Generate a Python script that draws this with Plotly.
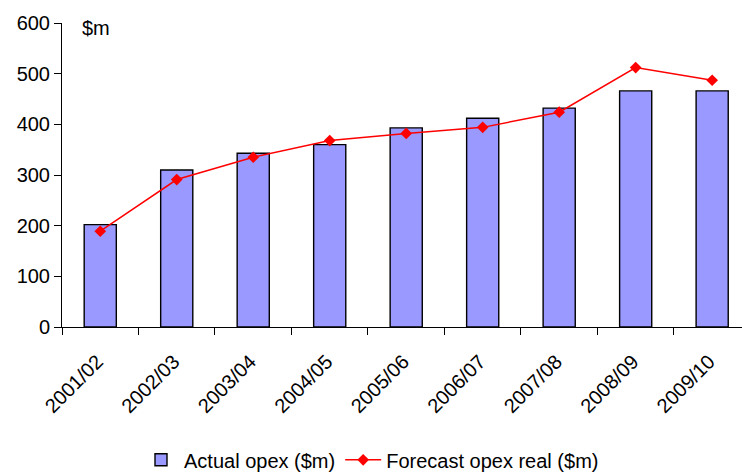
import plotly.graph_objects as go

years = ["2001/02", "2002/03", "2003/04", "2004/05", "2005/06",
         "2006/07", "2007/08", "2008/09", "2009/10"]
actual_opex = [202, 310, 343, 360, 393, 412, 432, 466, 466]
forecast_opex_real = [189, 291, 335, 368, 382, 394, 424, 512, 487]
y_ticks = [0, 100, 200, 300, 400, 500, 600]

FONT = "Liberation Sans, Arial, sans-serif"

fig = go.Figure()
fig.add_trace(go.Bar(
    x=years, y=actual_opex, name="Actual opex ($m)",
    marker=dict(color="#9999FF", line=dict(color="#000000", width=1.4)),
    width=0.42,
))
fig.add_trace(go.Scatter(
    x=years, y=forecast_opex_real, name="Forecast opex real ($m)",
    mode="lines+markers",
    line=dict(color="#FF0000", width=1.5),
    marker=dict(symbol="diamond", size=9, color="#FF0000"),
))

fig.update_layout(
    width=742, height=474,
    margin=dict(l=62, r=0, t=23, b=147),
    paper_bgcolor="white", plot_bgcolor="white",
    font=dict(family=FONT, size=20, color="#000000"),
    showlegend=True,
    legend=dict(
        orientation="h", xref="container", yref="container",
        x=0.5, xanchor="center", y=0.03, yanchor="middle",
        font=dict(size=20), itemwidth=36, tracegroupgap=0,
    ),
    hovermode=False,
    annotations=[dict(
        text="$m", xref="paper", yref="paper", x=0.026, y=0.984,
        xanchor="left", yanchor="middle", showarrow=False,
        font=dict(size=20),
    )],
)
fig.update_xaxes(
    type="category", range=[-0.5, 8.39],
    showline=True, linecolor="#000000", linewidth=1,
    ticks="outside", tickson="boundaries", ticklen=7, tickcolor="#000000",
    tickangle=-45, showgrid=False, zeroline=False,
    tickfont=dict(size=20), ticklabelstandoff=14, ticklabelshift=-3,
)
fig.update_yaxes(
    range=[0, 600], tickvals=y_ticks,
    showline=True, linecolor="#000000", linewidth=1,
    ticks="outside", ticklen=7, tickcolor="#000000",
    showgrid=False, zeroline=False,
    tickfont=dict(size=20),
)

fig.write_html("out.html")
